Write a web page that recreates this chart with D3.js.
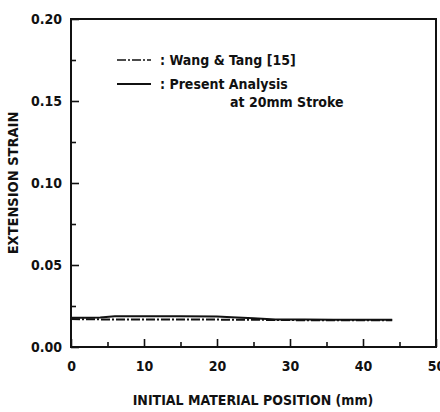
<!DOCTYPE html>
<html>
<head>
<meta charset="utf-8">
<script src="https://cdn.jsdelivr.net/npm/d3@7"></script>
<style>
  body { margin: 0; background: #fff; }
  text { font-family: "DejaVu Sans Condensed", "DejaVu Sans", sans-serif; font-weight: bold; fill: #111; }
</style>
</head>
<body>
<div id="chart"></div>
<script>
// values
const xTicks = [0, 10, 20, 30, 40, 50]
const xMinor = [5, 15, 25, 35, 45]
const yTicks = [0, 0.05, 0.10, 0.15, 0.20]
const yMinor = [0.025, 0.075, 0.125, 0.175]

// present analysis (solid)
const presentX = [0, 2, 4, 6, 10, 15, 20, 22, 25, 28, 32, 36, 40, 44]
const presentY = [0.0178, 0.0178, 0.018, 0.0188, 0.0188, 0.0187, 0.0186, 0.0182, 0.0175, 0.0168, 0.0167, 0.0166, 0.0166, 0.0166]

// wang & tang (dash dot)
const wangX = [0, 5, 10, 15, 20, 25, 30, 35, 40, 44]
const wangY = [0.0170, 0.0168, 0.0168, 0.0167, 0.0167, 0.0166, 0.0164, 0.0163, 0.0163, 0.0163]

const width = 440
const height = 412
const margin = { top: 19, right: 4, bottom: 65, left: 71 }

const svg = d3.select("#chart")
  .append("svg")
  .attr("width", width)
  .attr("height", height)

const x = d3.scaleLinear()
  .domain([0, 50])
  .range([margin.left, width - margin.right])

const y = d3.scaleLinear()
  .domain([0, 0.20])
  .range([height - margin.bottom, margin.top])

// frame
svg.append("rect")
  .attr("x", x(0))
  .attr("y", y(0.20))
  .attr("width", x(50) - x(0))
  .attr("height", y(0) - y(0.20))
  .attr("fill", "none")
  .attr("stroke", "#111")
  .attr("stroke-width", 2)

// bottom axis, ticks pointing inside
const xAxis = svg.append("g")
  .attr("transform", `translate(0,${y(0)})`)
  .call(d3.axisBottom(x).tickValues(xTicks).tickSize(-8).tickPadding(14).tickFormat(d3.format("d")))
xAxis.select(".domain").remove()
xAxis.selectAll("line").attr("stroke", "#111").attr("stroke-width", 1.6)
xAxis.selectAll("text").style("font-size", "14px")

svg.append("g")
  .attr("transform", `translate(0,${y(0)})`)
  .call(d3.axisBottom(x).tickValues(xMinor).tickSize(-5).tickFormat(""))
  .call(g => g.select(".domain").remove())
  .selectAll("line").attr("stroke", "#111").attr("stroke-width", 1.6)

// left axis
const yAxis = svg.append("g")
  .attr("transform", `translate(${x(0)},0)`)
  .call(d3.axisLeft(y).tickValues(yTicks).tickSize(-8).tickPadding(9).tickFormat(d3.format(".2f")))
yAxis.select(".domain").remove()
yAxis.selectAll("line").attr("stroke", "#111").attr("stroke-width", 1.6)
yAxis.selectAll("text").style("font-size", "14px")

svg.append("g")
  .attr("transform", `translate(${x(0)},0)`)
  .call(d3.axisLeft(y).tickValues(yMinor).tickSize(-5).tickFormat(""))
  .call(g => g.select(".domain").remove())
  .selectAll("line").attr("stroke", "#111").attr("stroke-width", 1.6)

// curves
const line = d3.line()
  .x(d => x(d[0]))
  .y(d => y(d[1]))

svg.append("path")
  .datum(presentX.map((d, i) => [d, presentY[i]]))
  .attr("d", line)
  .attr("fill", "none")
  .attr("stroke", "#111")
  .attr("stroke-width", 2)

svg.append("path")
  .datum(wangX.map((d, i) => [d, wangY[i]]))
  .attr("d", line)
  .attr("fill", "none")
  .attr("stroke", "#111")
  .attr("stroke-width", 2)
  .attr("stroke-dasharray", "9,2,2,2")

// legend
svg.append("line")
  .attr("x1", 117).attr("x2", 151)
  .attr("y1", 60).attr("y2", 60)
  .attr("stroke", "#111").attr("stroke-width", 1.6)
  .attr("stroke-dasharray", "9,2,2,2")
svg.append("line")
  .attr("x1", 117).attr("x2", 151)
  .attr("y1", 84).attr("y2", 84)
  .attr("stroke", "#111").attr("stroke-width", 1.8)

svg.append("text").attr("x", 160).attr("y", 65).style("font-size", "14px").text(": Wang & Tang [15]")
svg.append("text").attr("x", 160).attr("y", 89).style("font-size", "14px").text(": Present Analysis")
svg.append("text").attr("x", 230).attr("y", 107).style("font-size", "14px").text("at 20mm Stroke")

// axis titles
svg.append("text")
  .attr("transform", `translate(18,${(y(0) + y(0.2)) / 2}) rotate(-90)`)
  .style("text-anchor", "middle")
  .style("font-size", "14.5px")
  .text("EXTENSION  STRAIN")

svg.append("text")
  .attr("x", 253)
  .attr("y", 405)
  .style("text-anchor", "middle")
  .style("font-size", "14px")
  .text("INITIAL  MATERIAL  POSITION  (mm)")
</script>
</body>
</html>
